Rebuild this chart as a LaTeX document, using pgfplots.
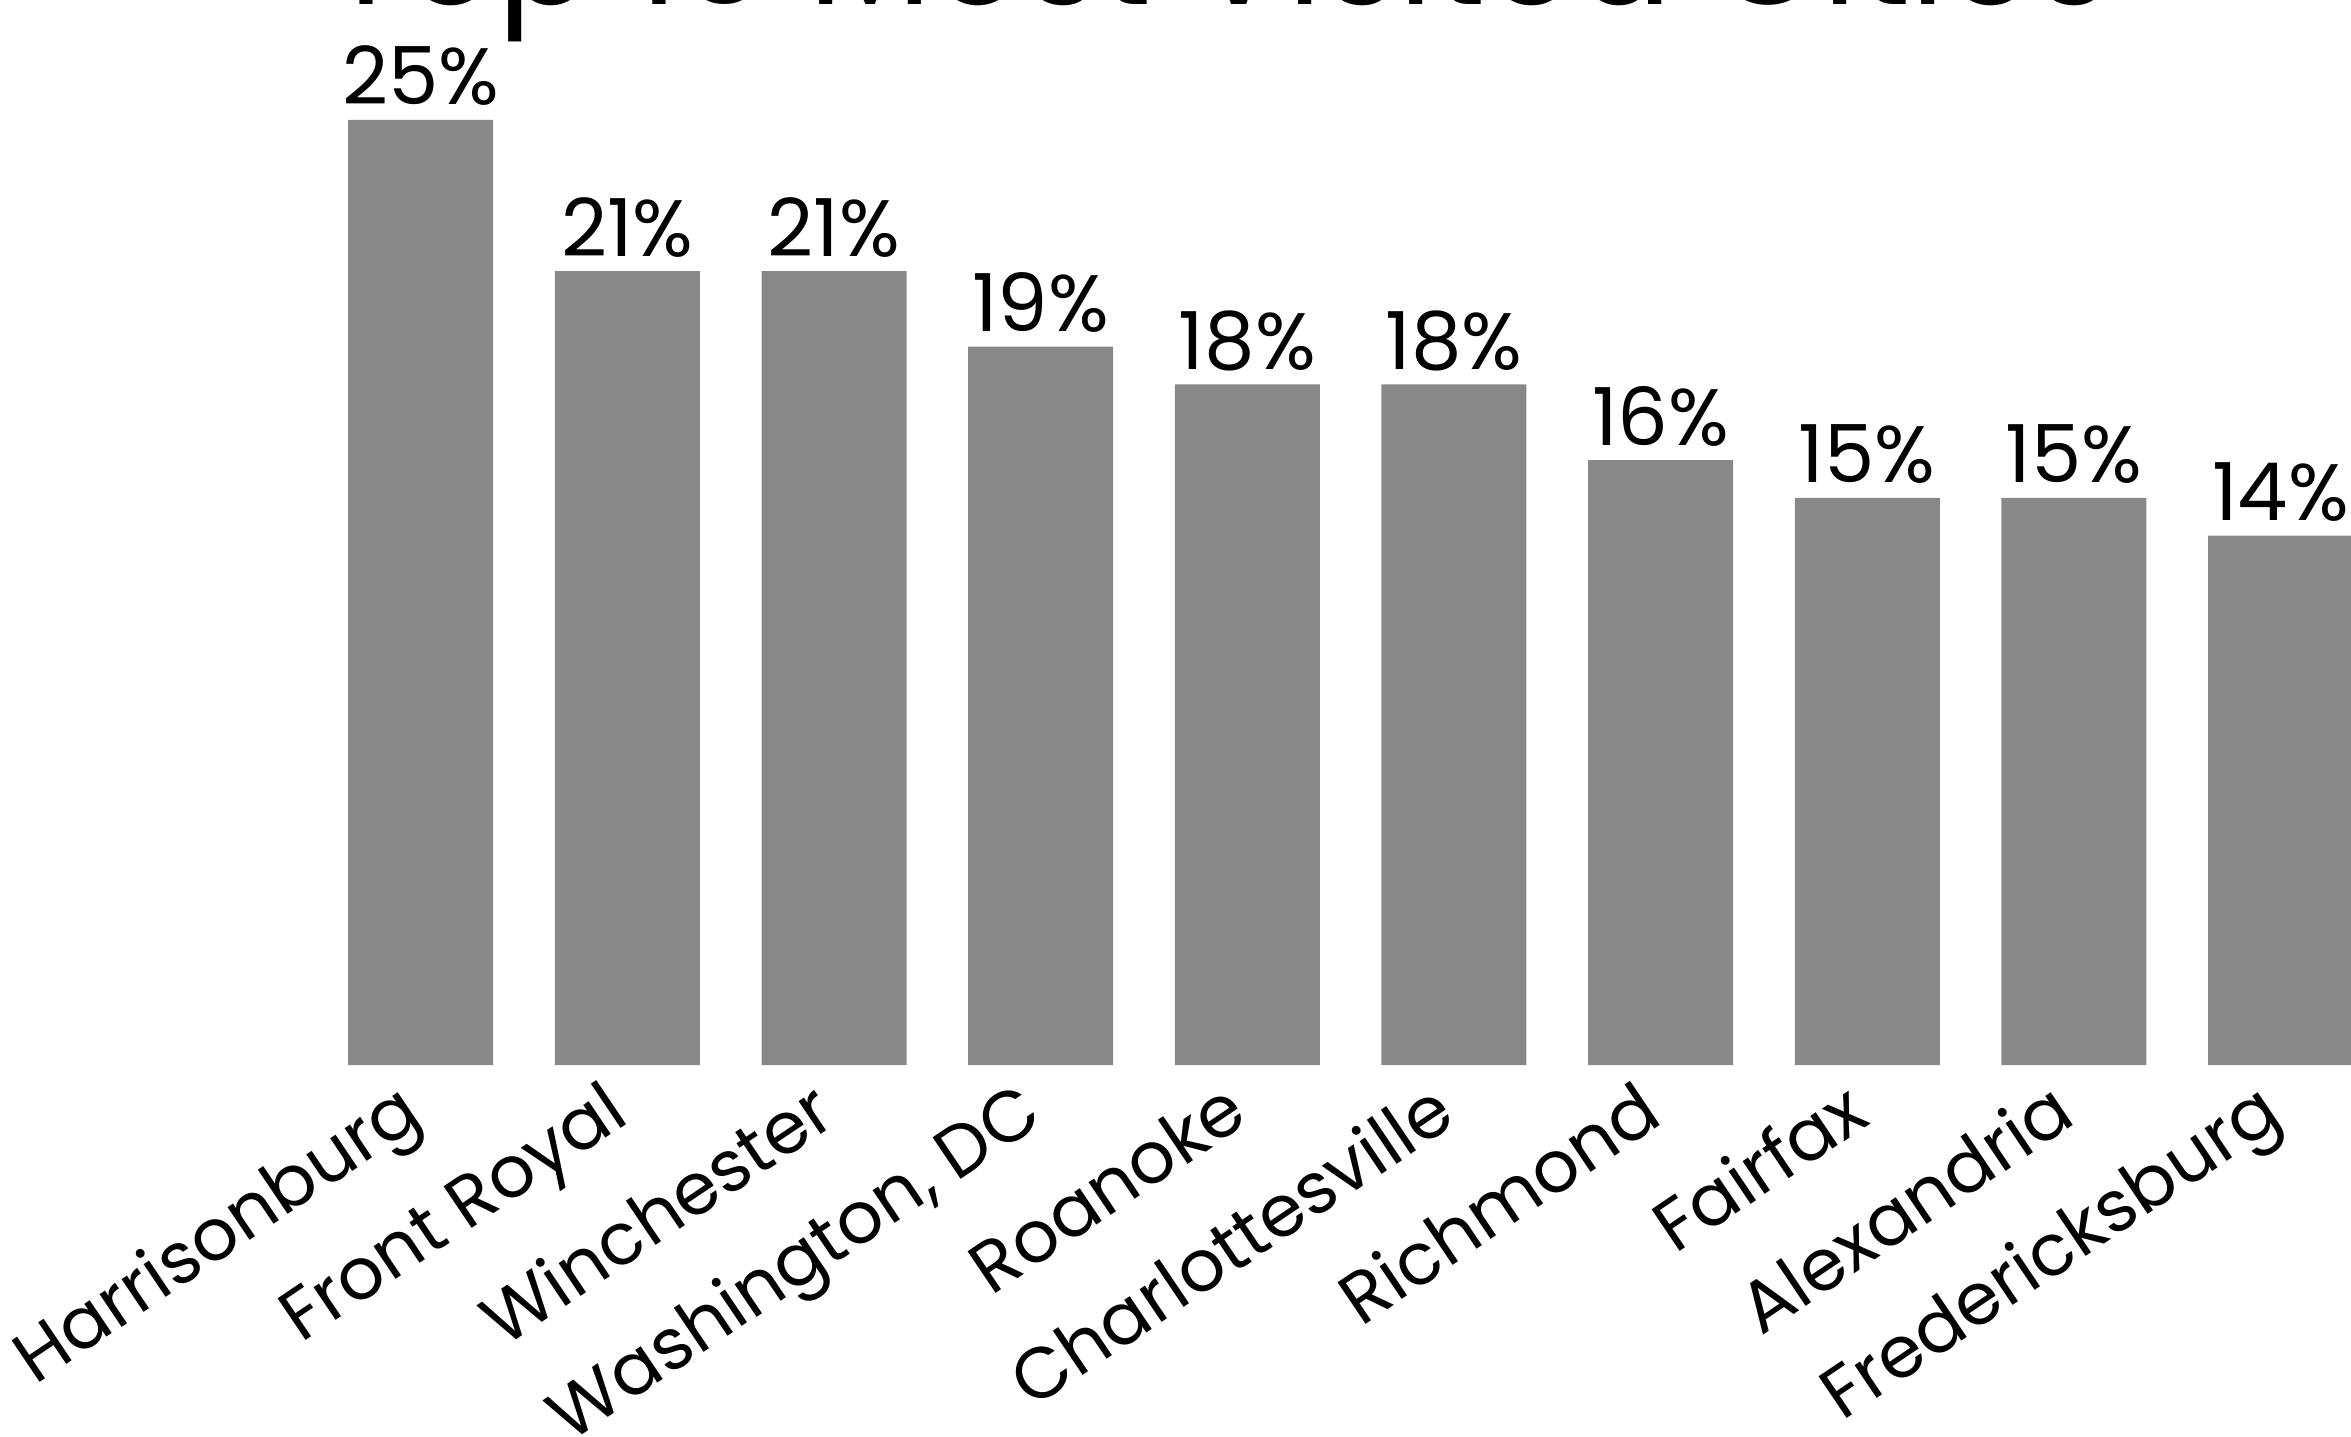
\documentclass[border=0pt]{standalone}
\usepackage{fontspec}
\setmainfont{Poppins}
\usepackage{pgfplots}
\pgfplotsset{compat=1.18}
\definecolor{bargray}{RGB}{136,136,136}
\begin{document}
\begin{tikzpicture}
\begin{axis}[
  at={(0,0)}, anchor=south west,
  scale only axis, width=587.75pt, height=266.25pt,
  xmin=-2.036, xmax=9.341, ymin=0, ymax=28.17,
  clip=false,
  axis line style={draw=none},
  tick style={draw=none},
  ytick=\empty,
  xtick=data,
  xticklabels={Harrisonburg,Front Royal,Winchester,{Washington, DC},Roanoke,Charlottesville,Richmond,Fairfax,Alexandria,Fredericksburg},
  xticklabel style={yshift=1.5pt, xshift=-6.5pt, rotate=34, anchor=north east, inner sep=0pt, font=\fontsize{18}{22}\selectfont},
  ybar, bar width=36.25pt,
  nodes near coords={\pgfmathprintnumber[assume math mode=true]{\pgfplotspointmeta}\%},
  every node near coord/.append style={anchor=base, yshift=3.75pt, inner sep=0pt, font=\fontsize{20}{24}\selectfont, text=black},
]
\addplot[fill=bargray, draw=none] coordinates {(0,25) (1,21) (2,21) (3,19) (4,18) (5,18) (6,16) (7,15) (8,15) (9,14)};
\coordinate (BL) at (rel axis cs:0,0);
\coordinate (TR) at (rel axis cs:1,1);
\node[anchor=base, inner sep=0pt, font=\fontsize{36}{43}\selectfont] at (rel axis cs:0.5185,0.9953) {Top 10 Most Visited Cities};
\end{axis}
\pgfresetboundingbox
\path[use as bounding box] ([yshift=-93pt]BL) rectangle (TR);
\end{tikzpicture}
\end{document}
